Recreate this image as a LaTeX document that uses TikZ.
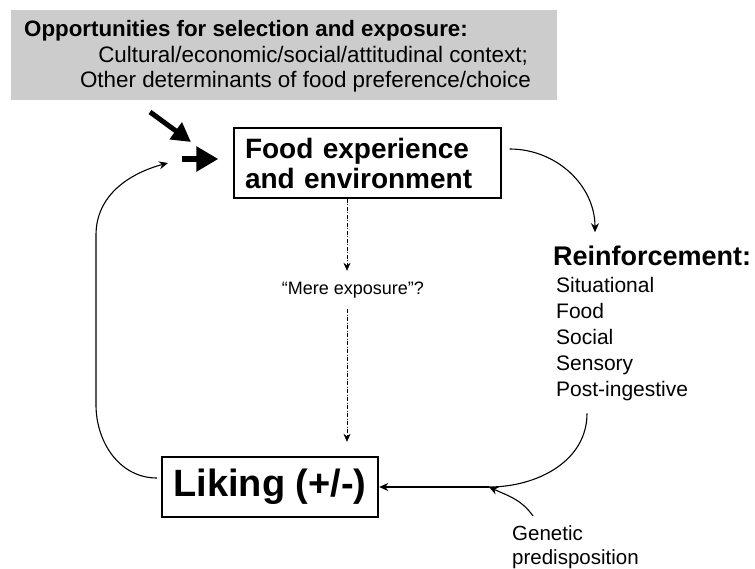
\documentclass[tikz,border=0pt]{standalone}
\usepackage{fontspec}
\setmainfont{Liberation Sans}
\usetikzlibrary{positioning, arrows.meta}

\definecolor{oppgray}{RGB}{204,204,204}

\tikzset{
  oppbox/.style={fill=oppgray, draw=none, inner sep=0pt},
  titletext/.style={inner sep=0pt, font=\fontsize{22.3}{26}\selectfont\bfseries},
  plaintext/.style={inner sep=0pt, font=\fontsize{22.4}{26}\selectfont},
  foodbox/.style={draw, line width=1.3pt, inner sep=0pt, align=left,
    minimum width=267pt, minimum height=70pt, text width=245pt,
    font=\fontsize{28}{30}\selectfont\bfseries},
  likebox/.style={draw, line width=2.4pt, inner sep=0pt,
    minimum width=216pt, minimum height=60pt,
    font=\fontsize{38}{40}\selectfont\bfseries},
  headtext/.style={inner sep=0pt, font=\fontsize{27}{30}\selectfont\bfseries},
  itemtext/.style={inner sep=0pt, align=left, font=\fontsize{21}{26}\selectfont},
  smalltext/.style={inner sep=0pt, font=\fontsize{18}{23}\selectfont},
  genetext/.style={inner sep=0pt, align=left, font=\fontsize{20.5}{24}\selectfont},
  curvearrow/.style={line width=1.1pt, -{Stealth[length=9pt, width=8pt]}},
  fatarrow/.style={line width=5pt, -{Triangle[length=19pt, width=20pt]}},
  fatterarrow/.style={line width=6.5pt, -{Triangle[length=22pt, width=24pt]}},
  mereline/.style={line width=0.6pt, dash pattern=on 4pt off 1.5pt on 1pt off 1.5pt,
    -{Stealth[length=8pt, width=7pt]}}
}

\begin{document}
\begin{tikzpicture}[x=1pt, y=-1pt]
  \useasboundingbox (0,0) rectangle (755,569);

  % opportunities box
  \node[oppbox, minimum width=546pt, minimum height=90pt] (opp) at (284,55) {};
  \node[titletext, anchor=base west] (opptitle) at (24,37) {Opportunities for selection and exposure:};
  \node[plaintext, anchor=base east] (oppctx) at (528,63) {Cultural/economic/social/attitudinal context;};
  \node[plaintext, anchor=base east] (oppdet) at (531,88) {Other determinants of food preference/choice};

  % main nodes
  \node[foodbox] (food) at (367.5,163) {Food experience\\and environment};
  \node[likebox] (liking) at (270,487) {Liking (+/-)};
  \node[headtext, anchor=base west] (reinf) at (553,266) {Reinforcement:};
  \node[itemtext, below right=11pt and 3pt of reinf.south west] (items)
    {Situational\\Food\\Social\\Sensory\\Post-ingestive};
  \node[smalltext, minimum height=38pt] (mere) at (353,290) {``Mere exposure''?};
  \node[genetext, anchor=north west] (gene) at (512,525) {Genetic\\predisposition};

  % free ends
  \coordinate (diagtail) at (150,112);
  \coordinate (diaghead) at (191,142);
  \coordinate (bigtail) at (182,159);
  \coordinate (loophead) at (168,163);
  \coordinate (join) at (489,487);
  \coordinate (merein) at ([xshift=-6pt]mere.north);
  \coordinate (mereout) at ([xshift=-6pt]mere.south);

  % arrows into the food box
  \draw[fatarrow] (diagtail) -- (diaghead);
  \draw[fatterarrow] (bigtail) -- ([shift={(-15pt,4pt)}]food.west);

  % loop back from liking
  \draw[curvearrow] ([shift={(-4pt,9pt)}]liking.west) to[out=180, in=-90] (96,405)
    -- (96,235) to[out=90, in=195] (loophead);

  % reinforcement path
  \draw[curvearrow] ([shift={(8pt,14pt)}]food.east) to[out=0, in=90]
    ([shift={(42pt,14pt)}]reinf.north west);
  \draw[line width=1.1pt] ([shift={(31pt,-12pt)}]items.south west) to[out=-90, in=0] (join);
  \draw[curvearrow] (join) -- (liking.east);
  \draw[curvearrow] ([shift={(21pt,9pt)}]gene.north west) to[out=125, in=-25] (join);

  % mere exposure
  \draw[mereline] (food.south -| merein) -- (merein);
  \draw[mereline, shorten >=14pt] (mereout) -- (liking.north -| mereout);
\end{tikzpicture}
\end{document}
